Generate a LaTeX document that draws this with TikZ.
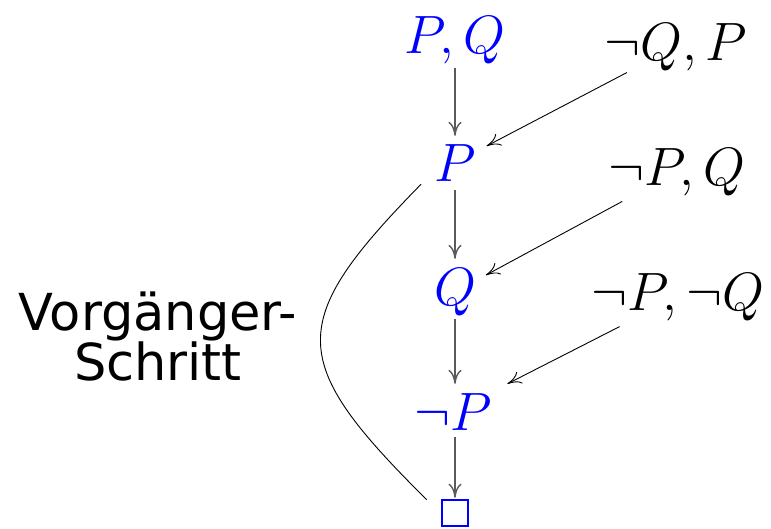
\RequirePackage{fix-cm}
\documentclass[tikz,border=0pt]{standalone}
\usepackage{fontspec}
\newfontfamily\labelfont{DejaVu Sans}
\usetikzlibrary{arrows.meta}
\definecolor{arrgray}{RGB}{90,90,90}
\begin{document}
\begin{tikzpicture}[x=1pt,y=-1pt,
  lit/.style={inner sep=0pt, anchor=base, font=\fontsize{54}{60}\selectfont},
  res/.style={lit, text=blue},
  given/.style={lit, text=black},
  mainarr/.style={draw=arrgray, line width=1.4pt, -{To[length=14pt,width=13pt]}},
  sidearr/.style={draw=black, line width=0.9pt, -{To[length=14pt,width=13pt]}},
  spanline/.style={draw=black, line width=0.9pt},
  emptybox/.style={draw=blue, line width=2.6pt, minimum size=26pt, inner sep=0pt},
  note/.style={inner sep=0pt, anchor=base, align=center, font=\labelfont\fontsize{51}{50}\selectfont}
]
\useasboundingbox (0,0) rectangle (771,528);
\node[res] (pq) at (455,53) {$P,Q$};
\node[given] (qp) at (676,60) {$\neg Q,P$};
\node[res] (p) at (455,181) {$P$};
\node[given] (npq) at (677,185) {$\neg P,Q$};
\node[res] (q) at (455,305) {$Q$};
\node[given] (npnq) at (678,310) {$\neg P,\neg Q$};
\node[res] (np) at (453,430) {$\neg P$};
\node[emptybox] (box) at (455,513) {};
\node[note] (lbl) at (158,380) {Vorgänger-\\Schritt};

\draw[mainarr, shorten <=4pt, shorten >=8pt] (pq.south) -- (p.north);
\draw[mainarr, shorten <=9pt, shorten >=9pt] (p.south) -- (q.north);
\draw[mainarr, shorten <=3pt, shorten >=9pt] (q.south) -- (q.south |- np.north);
\draw[mainarr, shorten <=7pt, shorten >=1pt] (box.north |- np.south) -- (box.north);

\draw[sidearr, shorten <=4pt, shorten >=12pt] (qp) -- (p);
\draw[sidearr, shorten <=12pt, shorten >=11pt] (npq) -- (q);
\draw[sidearr, shorten <=13pt, shorten >=20pt] (npnq) -- (np);

\draw[spanline] ([shift={(-13,3)}]p.south west) .. controls (285,323) and (287,361) .. ([shift={(-14,1)}]box.north west);
\end{tikzpicture}
\end{document}
